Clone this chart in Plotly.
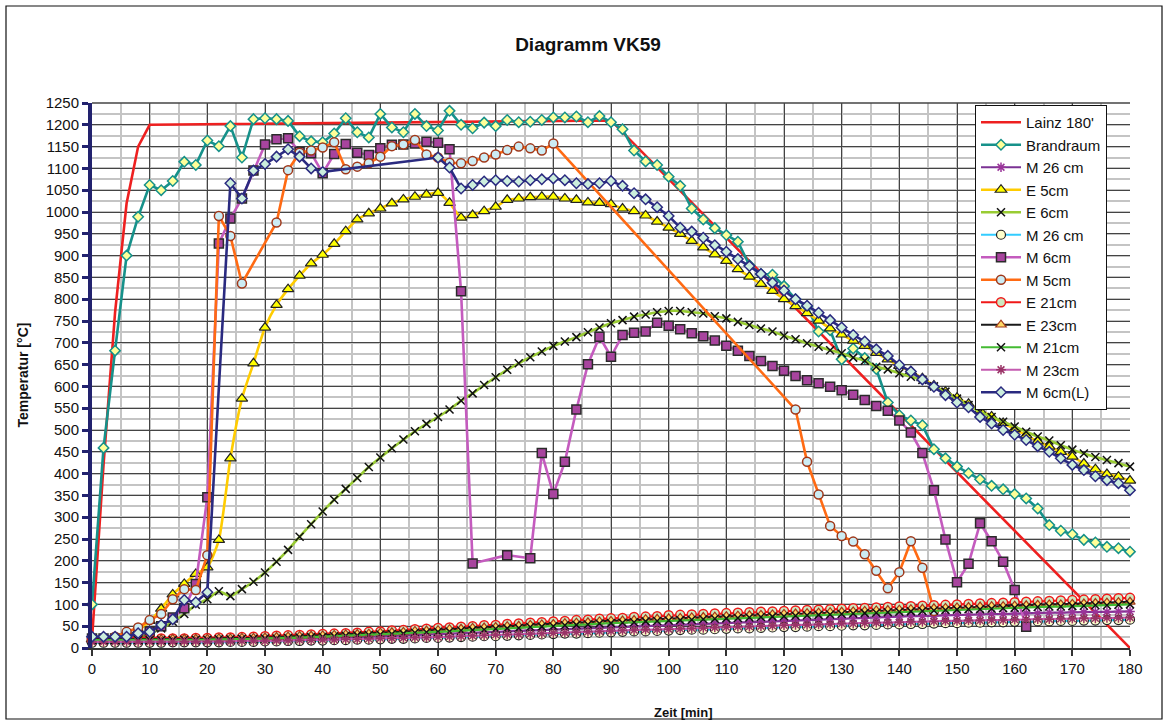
import plotly.graph_objects as go

# ---------------- data ----------------
T2 = list(range(0, 181, 2))  # sampling times every 2 min

lainz_t = [0, 2, 4, 6, 8, 10, 90, 180]
lainz_v = [20, 420, 770, 1020, 1150, 1200, 1210, 0]

brand_v = [100, 459, 682, 900, 989, 1062, 1050, 1071, 1115, 1108, 1164, 1151, 1197, 1125, 1213, 1215,
           1213, 1209, 1174, 1162, 1160, 1180, 1215, 1183, 1171, 1225, 1194, 1183, 1225, 1197, 1187,
           1232, 1200, 1192, 1205, 1197, 1211, 1206, 1207, 1211, 1217, 1217, 1219, 1206, 1220, 1206,
           1190, 1141, 1116, 1108, 1081, 1060, 1008, 983, 963, 947, 932, 878, 858, 856, 830, 800,
           783, 726, 729, 662, 687, 665, 640, 563, 534, 522, 511, 456, 435, 416, 401, 387, 372,
           364, 353, 343, 320, 282, 269, 261, 248, 242, 232, 229, 221]

m26a_v = [16, 16, 16, 16, 16, 16, 16, 16, 17, 17, 17,
          17, 18, 18, 19, 19, 20, 20, 21, 22, 22,
          23, 24, 25, 26, 27, 28, 29, 30, 31, 32,
          33, 34, 35, 36, 37, 38, 40, 41, 42, 43,
          44, 45, 46, 47, 48, 49, 50, 51, 52, 53,
          54, 55, 56, 57, 58, 59, 60, 61, 62, 63,
          64, 65, 66, 67, 67, 68, 69, 70, 71, 72,
          73, 73, 74, 75, 76, 76, 77, 78, 78, 79,
          80, 80, 81, 81, 82, 82, 83, 83, 84, 84]

e5_v = [20, 20, 21, 24, 40, 62, 90, 123, 147, 170, 185, 248, 435, 572, 653, 735, 787, 823, 854, 882,
        902, 927, 956, 983, 997, 1008, 1020, 1029, 1035, 1040, 1044, 1021, 987, 993, 1002, 1012,
        1028, 1031, 1034, 1035, 1035, 1031, 1028, 1022, 1021, 1018, 1008, 1002, 992, 978, 964,
        950, 934, 919, 903, 888, 869, 852, 835, 819, 800, 784, 768, 751, 733, 719, 705, 693, 677,
        662, 647, 634, 619, 602, 588, 574, 560, 545, 531, 516, 502, 488, 474, 462, 450, 439, 423,
        410, 399, 393, 384]

e6_v = [18, 18, 18, 20, 25, 32, 45, 60, 78, 99, 112, 130, 119, 135, 152, 173, 198, 225, 255, 284,
        313, 340, 365, 390, 415, 437, 458, 478, 497, 514, 530, 547, 567, 584, 603, 621, 638, 653,
        667, 680, 693, 703, 713, 724, 735, 745, 752, 760, 765, 770, 773, 773, 770, 767, 761, 756,
        748, 741, 733, 726, 716, 708, 699, 691, 683, 676, 666, 659, 645, 639, 630, 622, 615, 600,
        588, 572, 557, 542, 530, 519, 508, 496, 485, 476, 465, 455, 446, 438, 431, 424, 416]

m26b_v = [12, 12, 12, 12, 12, 12, 12, 13, 13, 13, 13,
          13, 14, 14, 14, 15, 15, 16, 16, 17, 17,
          18, 18, 19, 19, 20, 21, 21, 22, 23, 23,
          24, 25, 26, 27, 27, 28, 29, 30, 31, 32,
          33, 33, 34, 35, 36, 37, 38, 38, 39, 40,
          41, 42, 42, 43, 44, 45, 45, 46, 47, 48,
          48, 49, 50, 50, 51, 52, 52, 53, 54, 54,
          55, 55, 56, 57, 57, 58, 58, 59, 59, 60,
          60, 61, 61, 62, 62, 63, 63, 64, 64, 65]

m6_t = [0, 2, 4, 6, 8, 10, 12, 14, 16, 18, 20, 22, 24, 26, 28, 30, 32, 34, 36, 38, 40, 42, 44, 46,
        48, 50, 52, 54, 56, 58, 60, 62, 64, 66, 72, 76, 78, 80, 82, 84, 86, 88, 90, 92, 94, 96, 98,
        100, 102, 104, 106, 108, 110, 112, 114, 116, 118, 120, 122, 124, 126, 128, 130, 132, 134,
        136, 138, 140, 142, 144, 146, 148, 150, 152, 154, 156, 158, 160, 162]
m6_v = [22, 22, 22, 24, 30, 38, 50, 70, 91, 147, 346, 928, 985, 1031, 1095, 1155, 1167, 1169, 1138,
        1135, 1089, 1133, 1156, 1136, 1131, 1146, 1154, 1155, 1157, 1161, 1159, 1144, 818, 194, 213,
        206, 447, 353, 427, 547, 651, 714, 668, 718, 723, 726, 746, 739, 731, 722, 715, 705, 693,
        682, 670, 658, 647, 636, 624, 614, 607, 599, 591, 581, 569, 555, 544, 522, 494, 447, 362,
        249, 151, 193, 286, 245, 198, 133, 49]

m5_t = [0, 2, 4, 6, 8, 10, 12, 14, 16, 18, 20, 22, 24, 26, 32, 34, 36, 38, 40, 42, 44, 46, 48, 50,
        52, 54, 56, 58, 60, 62, 64, 66, 68, 70, 72, 74, 76, 78, 80, 122, 124, 126, 128, 130, 132,
        134, 136, 138, 140, 142, 144, 146]
m5_v = [20, 22, 26, 37, 47, 64, 78, 112, 135, 133, 213, 991, 945, 836, 976, 1096, 1136, 1141, 1148,
        1160, 1098, 1104, 1112, 1127, 1151, 1155, 1165, 1132, 1125, 1113, 1112, 1117, 1125, 1132,
        1142, 1150, 1146, 1141, 1157, 547, 427, 352, 280, 257, 244, 215, 177, 137, 174, 245, 184, 85]

e21_v = [22, 22, 22, 22, 22, 22, 22, 22, 22, 23, 23,
         24, 24, 25, 26, 27, 28, 29, 30, 31, 32,
         33, 34, 35, 37, 38, 40, 41, 43, 44, 46,
         47, 49, 50, 52, 53, 55, 56, 58, 59, 61,
         62, 64, 65, 67, 68, 69, 71, 72, 73, 75,
         76, 77, 78, 79, 80, 81, 82, 83, 84, 85,
         86, 87, 88, 89, 90, 91, 92, 93, 94, 95,
         96, 97, 98, 99, 100, 101, 102, 103, 104, 105,
         106, 107, 108, 109, 110, 111, 112, 113, 114, 115]

e23_v = [20, 20, 20, 20, 20, 20, 20, 21, 21, 21, 21,
         22, 22, 23, 23, 24, 25, 26, 27, 28, 29,
         30, 31, 32, 33, 35, 36, 37, 39, 40, 41,
         43, 44, 46, 47, 48, 50, 51, 53, 54, 55,
         57, 58, 59, 61, 62, 63, 64, 66, 67, 68,
         69, 70, 71, 72, 73, 74, 75, 76, 77, 78,
         79, 80, 81, 82, 83, 84, 85, 86, 87, 88,
         89, 90, 91, 92, 93, 94, 95, 96, 96, 97,
         98, 99, 100, 100, 101, 102, 103, 104, 105, 106]

m21_v = [18, 18, 18, 18, 18, 18, 18, 18, 19, 19, 19,
         20, 20, 21, 21, 22, 22, 23, 24, 25, 26,
         27, 28, 29, 30, 31, 32, 33, 35, 36, 37,
         38, 40, 41, 42, 44, 45, 46, 48, 49, 50,
         52, 53, 54, 56, 57, 58, 59, 61, 62, 63,
         64, 65, 66, 67, 68, 69, 70, 71, 72, 73,
         74, 75, 76, 77, 78, 79, 80, 81, 82, 83,
         84, 85, 86, 87, 88, 89, 89, 90, 91, 92,
         93, 94, 95, 95, 96, 97, 98, 98, 99, 100]

m23_v = [14, 14, 14, 14, 14, 14, 14, 14, 15, 15, 15,
         15, 15, 16, 16, 16, 17, 17, 18, 18, 19,
         19, 20, 20, 21, 22, 22, 23, 24, 24, 25,
         26, 27, 28, 29, 30, 31, 31, 32, 33, 34,
         35, 36, 37, 38, 39, 40, 41, 42, 42, 43,
         44, 45, 46, 47, 48, 49, 49, 50, 51, 52,
         53, 53, 54, 55, 56, 56, 57, 58, 58, 59,
         60, 60, 61, 62, 62, 63, 63, 64, 64, 65,
         65, 66, 66, 67, 67, 68, 68, 69, 69, 70]

m6l_t = [0, 2, 4, 6, 8, 10, 12, 14, 16, 18, 20, 24, 26, 28, 30, 32, 34, 36, 38, 40,
         60, 62, 64, 66, 68, 70, 72, 74, 76, 78, 80, 82, 84, 86, 88, 90, 92, 94, 96, 98, 100,
         102, 104, 106, 108, 110, 112, 114, 116, 118, 120, 122, 124, 126, 128, 130, 132, 134,
         136, 138, 140, 142, 144, 146, 148, 150, 152, 154, 156, 158, 160, 162, 164, 166, 168,
         170, 172, 174, 176, 178, 180]
m6l_v = [26, 26, 26, 26, 34, 37, 53, 66, 110, 105, 128, 1066, 1031, 1095, 1110, 1127, 1144, 1127,
         1100, 1092, 1125, 1102, 1054, 1062, 1070, 1073, 1071, 1070, 1073, 1075, 1077, 1073, 1066,
         1064, 1066, 1071, 1060, 1043, 1029, 1011, 991, 964, 955, 941, 924, 909, 892, 876, 858, 838,
         820, 800, 785, 769, 752, 735, 718, 703, 685, 670, 649, 634, 616, 599, 580, 563, 552, 530,
         515, 500, 489, 477, 463, 450, 435, 420, 408, 394, 385, 378, 362]

x_ticks = list(range(0, 181, 10))
y_ticks = list(range(0, 1251, 50))

# ---------------- figure ----------------
FONT = "Liberation Sans, Arial, sans-serif"
fig = go.Figure()


def add(name, x, y, color, width=2.5, symbol=None, size=9, fill=None, mline=None, mlw=1.2,
        shape="linear"):
    marker = None
    mode = "lines"
    if symbol:
        mode = "lines+markers"
        marker = dict(symbol=symbol, size=size, color=fill if fill else mline,
                      line=dict(color=mline, width=mlw))
    fig.add_trace(go.Scatter(x=x, y=y, name=name, mode=mode,
                             line=dict(color=color, width=width, shape=shape,
                                       smoothing=0.6 if shape == "spline" else None),
                             marker=marker, cliponaxis=False))


add("Lainz 180'", lainz_t, lainz_v, "#EE2020", width=2.6)
add("Brandraum", T2, brand_v, "#16918A", width=2.6, symbol="diamond", size=8,
    fill="#FFFF99", mline="#16918A", mlw=1.5)
add("M 26 cm", T2, m26a_v, "#7B3294", width=2.2, symbol="asterisk", size=8,
    mline="#993399", mlw=1.5)
add("E 5cm", T2, e5_v, "#FFCC00", width=2.6, symbol="triangle-up", size=10,
    fill="#FFFF00", mline="#222222", mlw=1.2, shape="spline")
add("E 6cm", T2, e6_v, "#99CC33", width=2.6, symbol="x-thin", size=8,
    mline="#111111", mlw=1.5, shape="spline")
add("M 26 cm", T2, m26b_v, "#33CCFF", width=2.2, symbol="circle", size=9,
    fill="#FFFFCC", mline="#222222", mlw=1.2)
add("M 6cm", m6_t, m6_v, "#C45BBE", width=2.6, symbol="square", size=9,
    fill="#A8449E", mline="#2B2B2B", mlw=1.5)
add("M 5cm", m5_t, m5_v, "#FF6A13", width=2.6, symbol="circle", size=9,
    fill="#CCECF4", mline="#A0381A", mlw=1.5)
add("E 21cm", T2, e21_v, "#F01818", width=2.2, symbol="circle", size=9,
    fill="#CCE8C0", mline="#F01818", mlw=1.5)
add("E 23cm", T2, e23_v, "#1A1A1A", width=2.2, symbol="triangle-up", size=9,
    fill="#FFD966", mline="#A0381A", mlw=1.2)
add("M 21cm", T2, m21_v, "#44BB33", width=2.2, symbol="x-thin", size=8,
    mline="#111111", mlw=1.5)
add("M 23cm", T2, m23_v, "#C45BB0", width=2.2, symbol="asterisk", size=8,
    mline="#993366", mlw=1.5)
add("M 6cm(L)", m6l_t, m6l_v, "#2A2A80", width=2.6, symbol="diamond", size=8,
    fill="#CCEEDD", mline="#2A2A80", mlw=1.5)

fig.update_layout(
    width=1168, height=722,
    margin=dict(l=92, r=38, t=103, b=74),
    paper_bgcolor="white", plot_bgcolor="white",
    font=dict(family=FONT, size=15, color="#111111"),
    title=dict(text="<b>Diagramm VK59</b>", x=588 / 1168, xref="container", xanchor="center",
               y=1 - 44 / 722, yref="container", yanchor="middle",
               font=dict(family=FONT, size=19, color="#111111")),
    showlegend=True,
    legend=dict(x=(975 - 92) / 1038, y=(648 - 105) / 545, xanchor="left", yanchor="top",
                bgcolor="white", bordercolor="#111111", borderwidth=1,
                font=dict(family=FONT, size=15, color="#111111"),
                itemwidth=40, tracegroupgap=0, traceorder="normal"),
    xaxis=dict(range=[0, 180], tickvals=x_ticks, ticks="outside", ticklen=6, tickwidth=1.5,
               tickcolor="#333333", showline=True, linecolor="#333333", linewidth=2,
               showgrid=True, gridcolor="#444444", gridwidth=1, zeroline=False,
               minor=dict(dtick=5, tick0=0, showgrid=True, gridcolor="#C4C4C4", gridwidth=2),
               tickfont=dict(size=15)),
    yaxis=dict(range=[0, 1250], tickvals=y_ticks, ticks="outside", ticklen=6, tickwidth=3,
               tickcolor="#22226E", showline=True, linecolor="#22226E", linewidth=4,
               showgrid=True, gridcolor="#444444", gridwidth=1, zeroline=False,
               minor=dict(dtick=25, tick0=0, showgrid=True, gridcolor="#C4C4C4", gridwidth=2),
               tickfont=dict(size=15)),
    annotations=[
        dict(text="<b>Temperatur [°C]</b>", xref="paper", yref="paper",
             x=(22 - 92) / 1038, y=0.5, textangle=-90, showarrow=False,
             xanchor="center", yanchor="middle", font=dict(family=FONT, size=14)),
        dict(text="<b>Zeit [min]</b>", xref="paper", yref="paper",
             x=(683 - 92) / 1038, y=(648 - 712) / 545, showarrow=False,
             xanchor="center", yanchor="middle", font=dict(family=FONT, size=13)),
    ],
    shapes=[
        dict(type="rect", xref="paper", yref="paper",
             x0=(6 - 92) / 1038, x1=(1162 - 92) / 1038,
             y0=(648 - 719) / 545, y1=(648 - 6) / 545,
             line=dict(color="#111111", width=1.2), fillcolor="rgba(0,0,0,0)", layer="below"),
        dict(type="line", xref="paper", yref="paper", x0=0, x1=1, y0=1, y1=1,
             line=dict(color="#444444", width=1.5)),
    ],
)

fig.write_html("out.html", config={"displayModeBar": False},
               post_script="document.body.style.margin='0';document.body.style.overflow='hidden';")
